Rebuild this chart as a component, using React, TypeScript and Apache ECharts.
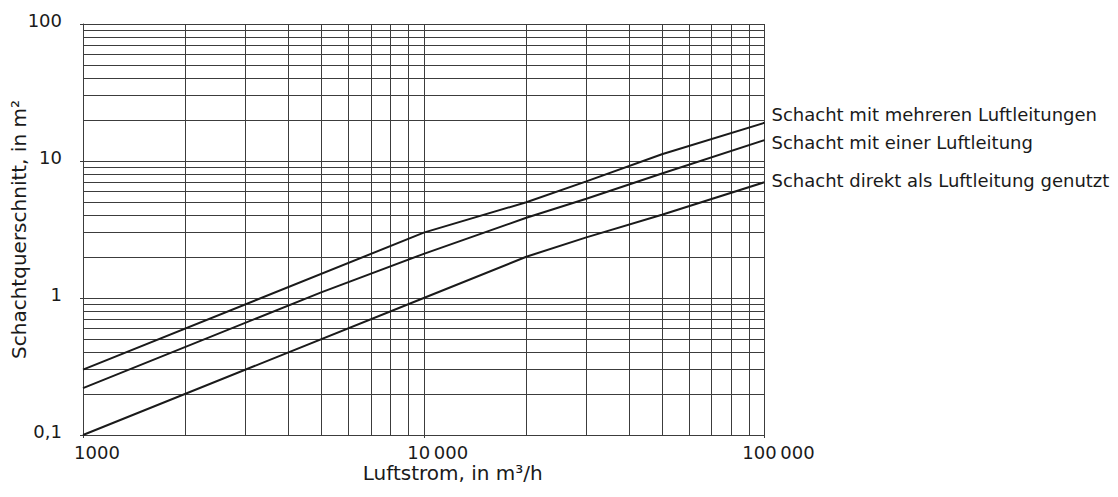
import React, { useEffect, useRef } from "react";
import * as echarts from "echarts";

// Luftstrom (m³/h) and Schachtquerschnitt (m²)
const seriesNames = [
  "Schacht mit mehreren Luftleitungen",
  "Schacht mit einer Luftleitung",
  "Schacht direkt als Luftleitung genutzt",
];
const flowMehrere = [1000, 10000, 20000, 30000, 50000, 100000];
const areaMehrere = [0.3, 3, 5, 7.1, 11.2, 19];
const flowEiner = [1000, 5000, 10000, 20000, 30000, 50000, 100000];
const areaEiner = [0.22, 1.1, 2.1, 3.85, 5.3, 8.1, 14.2];
const flowDirekt = [1000, 10000, 20000, 30000, 50000, 100000];
const areaDirekt = [0.1, 1, 2, 2.77, 4.05, 7];

// axis ticks and labels
const xTickValues = [1000, 10000, 100000];
const xTickLabels = ["1000", "10\u2009000", "100\u2009000"];
const yTickValues = [0.1, 1, 10, 100];
const yTickLabels = ["0,1", "1", "10", "100"];

// logarithmic grid lines
const xGridValues = [
  2000, 3000, 4000, 5000, 6000, 7000, 8000, 9000,
  10000, 20000, 30000, 40000, 50000, 60000, 70000, 80000, 90000, 100000,
];
const yGridValues = [
  0.2, 0.3, 0.4, 0.5, 0.6, 0.7, 0.8, 0.9,
  1, 2, 3, 4, 5, 6, 7, 8, 9,
  10, 20, 30, 40, 50, 60, 70, 80, 90, 100,
];

const FONT = "DejaVu Sans";
const TEXT = "#1a1a1a";
const GRID = "#3c3c3c";

function pairs(xs: number[], ys: number[]) {
  return xs.map((x, i) => [x, ys[i]]);
}

function labelFor(values: number[], labels: string[], v: number) {
  let best = 0;
  let bd = Infinity;
  values.forEach((t, i) => {
    const d = Math.abs(Math.log10(t) - Math.log10(v));
    if (d < bd) {
      bd = d;
      best = i;
    }
  });
  return labels[best];
}

export default function App() {
  const ref = useRef<HTMLDivElement>(null);

  useEffect(() => {
    if (!ref.current) return;
    const chart = echarts.init(ref.current, null, { renderer: "svg" });

    const gridStyle = { color: GRID, width: 1, type: "solid" as const };
    const curveStyle = { color: "#1a1a1a", width: 2 };

    const labelOffsets = [
      [0, -8],
      [0, 2],
      [0, -2],
    ];
    const datasets = [
      pairs(flowMehrere, areaMehrere),
      pairs(flowEiner, areaEiner),
      pairs(flowDirekt, areaDirekt),
    ];

    const curves = datasets.map((d, i) => ({
      type: "line",
      name: seriesNames[i],
      data: d,
      showSymbol: false,
      symbol: "none",
      lineStyle: curveStyle,
      itemStyle: { color: "#1a1a1a" },
      z: 5,
      endLabel: {
        show: true,
        formatter: seriesNames[i],
        distance: 7,
        offset: labelOffsets[i],
        fontFamily: FONT,
        fontSize: 18,
        color: TEXT,
      },
    }));

    const gridSeries = {
      type: "line",
      name: "grid",
      data: [],
      silent: true,
      z: 1,
      markLine: {
        silent: true,
        symbol: ["none", "none"],
        label: { show: false },
        lineStyle: gridStyle,
        animation: false,
        data: [
          ...xGridValues.map((v) => ({ xAxis: v })),
          ...yGridValues.map((v) => ({ yAxis: v })),
        ],
      },
    };

    chart.setOption({
      animation: false,
      grid: {
        left: 83,
        right: 353.5,
        top: 24,
        bottom: 62,
        containLabel: false,
        outerBoundsMode: "none",
      },
      xAxis: {
        type: "log",
        logBase: 10,
        min: 1000,
        max: 100000,
        name: "Luftstrom, in m³/h",
        nameLocation: "middle",
        nameGap: 28,
        nameMoveOverlap: false,
        nameTextStyle: {
          fontFamily: FONT,
          fontSize: 20,
          color: TEXT,
          padding: [0, 0, 0, 58],
        },
        axisLine: { show: true, lineStyle: { color: GRID, width: 1 } },
        axisTick: { show: true, length: 3, lineStyle: { color: GRID } },
        splitLine: { show: false },
        minorTick: { show: false },
        axisLabel: {
          fontFamily: FONT,
          fontSize: 18,
          color: TEXT,
          margin: 8,
          padding: [0, 0, 0, 28],
          formatter: (v: number) => labelFor(xTickValues, xTickLabels, v),
        },
      },
      yAxis: {
        type: "log",
        logBase: 10,
        min: 0.1,
        max: 100,
        name: "Schachtquerschnitt, in m²",
        nameLocation: "middle",
        nameGap: 54,
        nameMoveOverlap: false,
        nameTextStyle: { fontFamily: FONT, fontSize: 20, color: TEXT },
        axisLine: { show: true, lineStyle: { color: GRID, width: 1 } },
        axisTick: { show: true, length: 3, lineStyle: { color: GRID } },
        splitLine: { show: false },
        axisLabel: {
          fontFamily: FONT,
          fontSize: 18,
          color: TEXT,
          margin: 21,
          verticalAlign: "bottom",
          lineHeight: 8,
          formatter: (v: number) => labelFor(yTickValues, yTickLabels, v),
        },
      },
      series: [gridSeries, ...curves],
    });

    return () => chart.dispose();
  }, []);

  return (
    <div
      ref={ref}
      style={{
        position: "fixed",
        left: 0,
        top: 0,
        width: 1118,
        height: 497,
        background: "#ffffff",
      }}
    />
  );
}
